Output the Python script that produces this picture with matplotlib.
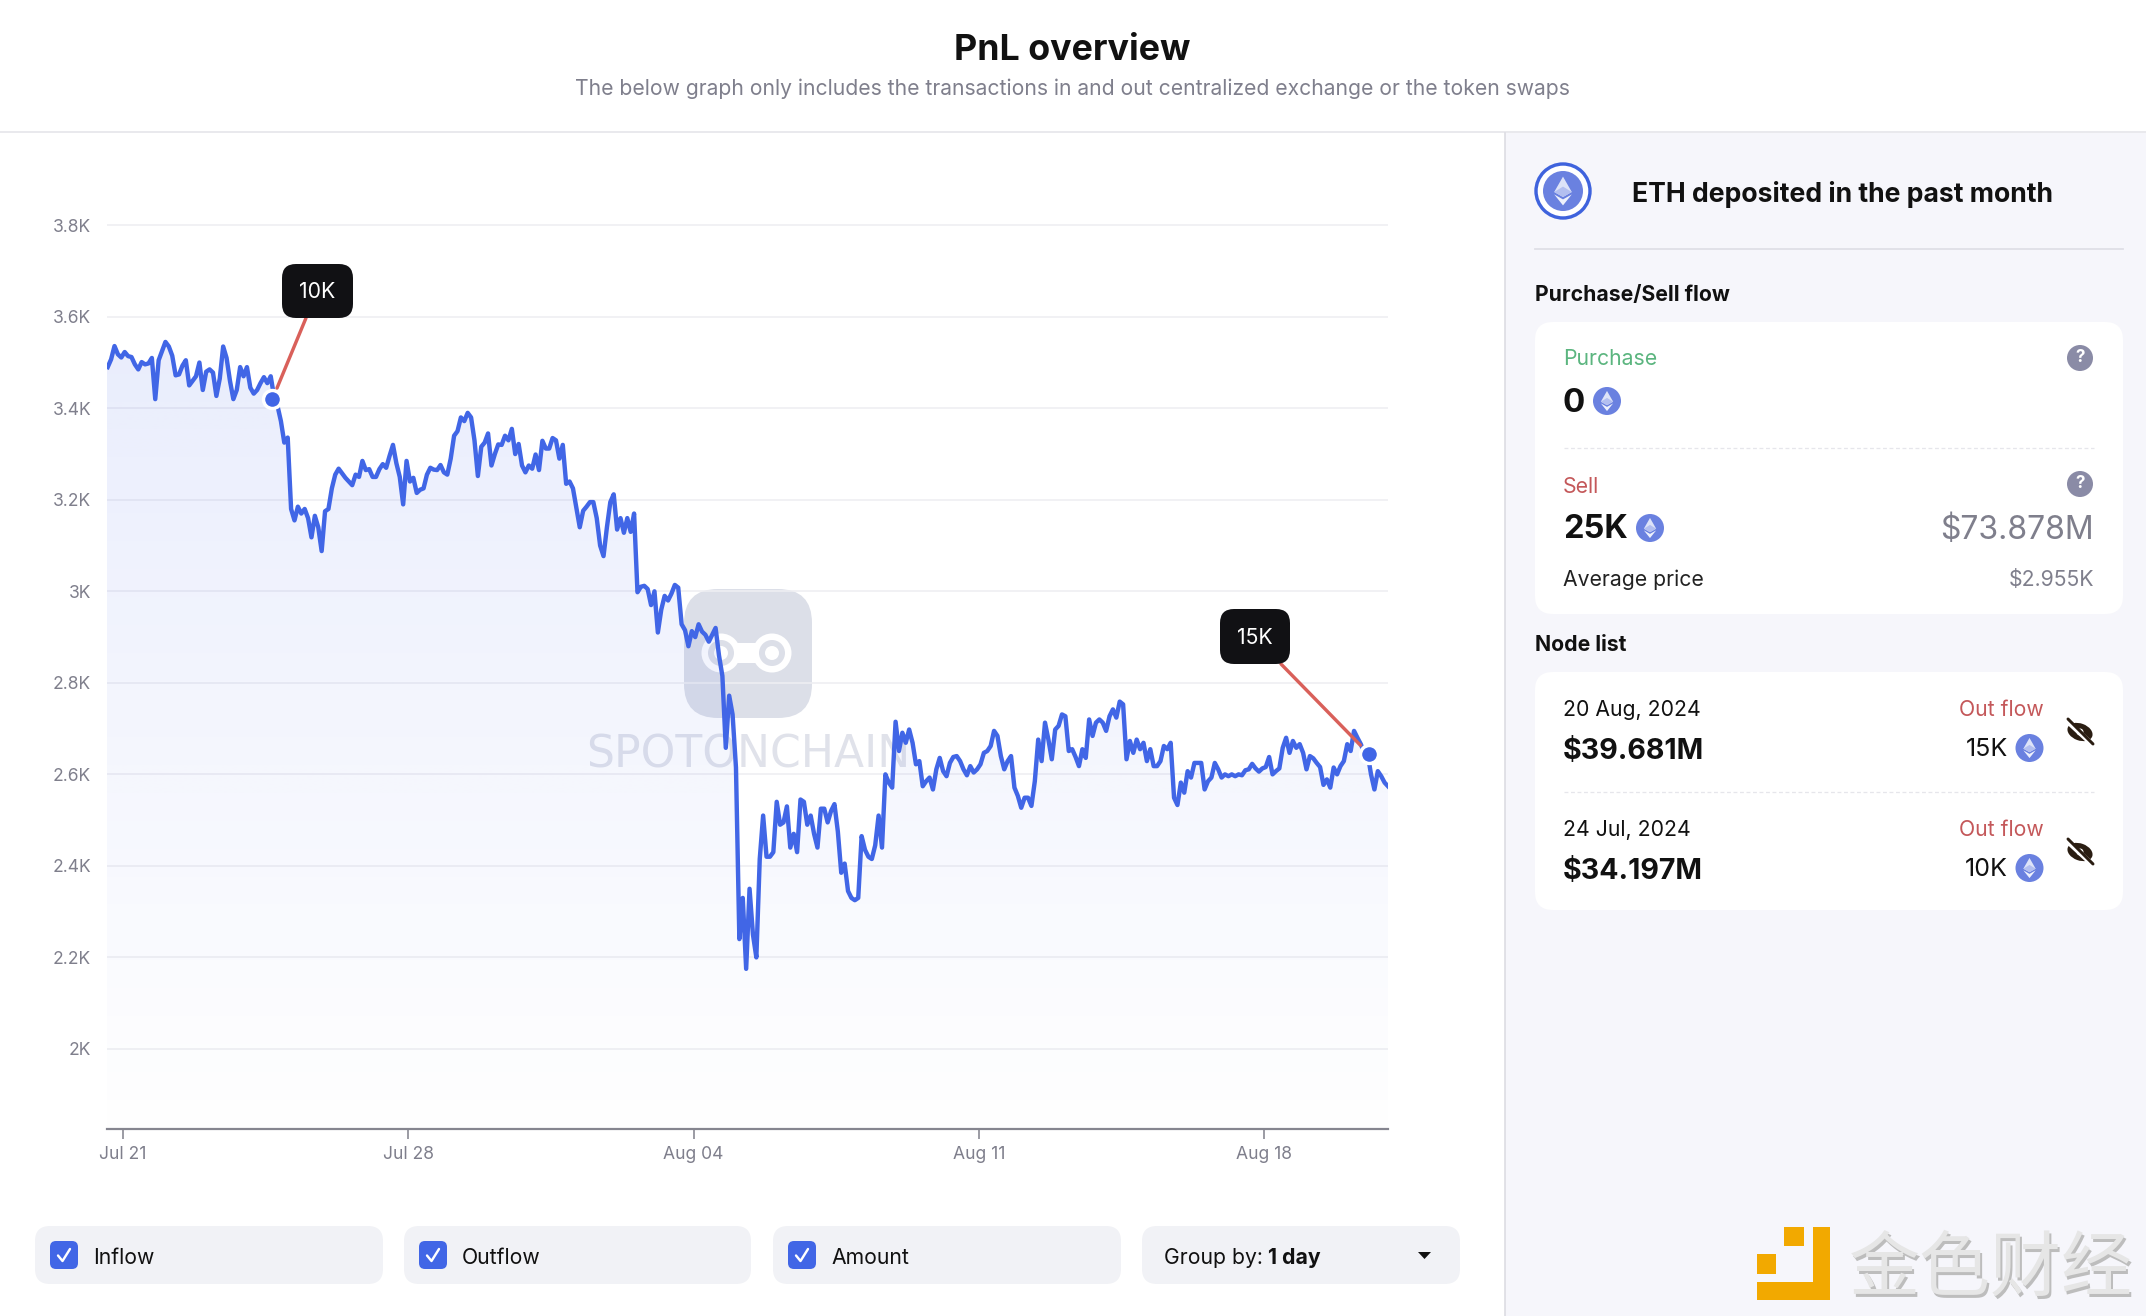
import matplotlib
matplotlib.use("Agg")
import matplotlib.pyplot as plt
import matplotlib.dates as mdates
import numpy as np
import pandas as pd
from matplotlib.patches import FancyBboxPatch, Circle, Polygon, Ellipse, Rectangle

plt.rcParams['font.family'] = ['Inter', 'DejaVu Sans']

# ---------- data ----------
START = '2024-07-20 15:00'
FREQ = '2h'
prices = [
 3490,3507,3536,3518,3511,3523,3514,3512,3496,3485,3501,3496,3498,3510,3420,3505,3525,3545,3535,3515,
 3472,3474,3493,3505,3450,3460,3470,3500,3440,3480,3485,3478,3427,3465,3535,3510,3460,3420,3440,3490,
 3470,3490,3445,3432,3440,3455,3468,3455,3470,3425,3405,3372,3325,3336,3180,3155,3185,3170,3180,3160,
 3118,3165,3140,3088,3175,3180,3225,3255,3268,3258,3248,3240,3232,3255,3250,3285,3265,
 3267,3250,3250,3267,3278,3270,3296,3320,3280,3250,3190,3285,3240,3248,3215,3222,3225,3255,3270,3266,
 3265,3276,3260,3255,3290,3340,3350,3380,3372,3390,3380,3330,3252,3316,3325,3345,3275,3300,3321,3320,
 3340,3330,3355,3300,3322,3275,3260,3275,3268,3299,3265,3329,3312,3312,3335,3330,3290,3320,3235,3240,
 3225,3182,3140,3176,3185,3195,3195,3160,3100,3077,3140,3195,3212,3135,3160,3128,
 3160,3130,3170,2998,3010,3012,3005,2970,3000,2910,2960,2990,2980,2995,3014,3008,2928,2915,2880,2913,
 2900,2928,2912,2905,2890,2905,2920,2860,2815,2658,2772,2731,2615,2240,2330,2175,2350,2250,2200,2415,
 2510,2420,2420,2430,2540,2490,2495,2530,2440,2470,2430,2545,2540,2490,2510,2470,2440,2525,2525,2495,
 2520,2535,2475,2385,2405,2345,2330,2325,2330,2465,2435,2420,2415,2445,2510,2440,2600,
 2582,2571,2715,2651,2691,2669,2698,2669,2622,2629,2574,2585,2593,2567,2611,2636,2607,2596,2625,2638,
 2640,2629,2611,2598,2618,2604,2611,2622,2647,2651,2662,2695,2684,2640,2611,2629,2640,2571,2553,2527,
 2549,2549,2531,2585,2676,2629,2713,2676,2633,2698,2706,2731,2727,2651,2655,2638,2618,2655,2636,2720,
 2684,2713,2720,2713,2695,2727,2742,2724,2759,2753,2633,2673,2647,2676,2655,2669,2629,
 2655,2618,2618,2629,2662,2655,2669,2549,2533,2582,2560,2607,2593,2625,2625,2625,2567,2585,2593,2625,
 2611,2593,2600,2596,2600,2596,2600,2598,2609,2611,2623,2613,2606,2613,2616,2638,2600,2607,2613,2658,
 2680,2647,2673,2658,2666,2647,2611,2640,2635,2625,2616,2577,2589,2571,2615,2600,2618,2629,2666,2651,
 2695,2680,2666,2647,2645,2600,2567,2607,2596,2582,2574,
]
node_times = ['2024-07-24 16:00', '2024-08-20 13:40']
node_prices = [3420, 2645]
node_labels = ['10K', '15K']
y_ticks = [2000, 2200, 2400, 2600, 2800, 3000, 3200, 3400, 3600, 3800]
y_tick_labels = ['2K', '2.2K', '2.4K', '2.6K', '2.8K', '3K', '3.2K', '3.4K', '3.6K', '3.8K']
x_ticks = ['2024-07-21', '2024-07-28', '2024-08-04', '2024-08-11', '2024-08-18']
x_tick_labels = ['Jul 21', 'Jul 28', 'Aug 04', 'Aug 11', 'Aug 18']

W, H = 2146, 1316
BLUE = '#4166E6'
GREY = '#7F7F8C'
RED = '#C4585A'
BASE = 21.2

fig = plt.figure(figsize=(W/100, H/100), dpi=100, facecolor='white')

def make_ui(z):
    a = fig.add_axes([0, 0, 1, 1], zorder=z)
    a.set_xlim(0, W); a.set_ylim(H, 0); a.axis('off'); a.patch.set_alpha(0)
    return a

ui = make_ui(0)
top = make_ui(5)

def px(v):
    return v * 0.72

def txt(a, x, y, s, size, color='#111111', weight='normal', ha='left', va='center', **kw):
    return a.text(x, y + 3, s, fontsize=px(size), color=color, fontweight=weight, ha=ha, va=va, **kw)

def rbox(a, x0, y0, x1, y1, r, fc, ec='none', z=1, alpha=None):
    p = FancyBboxPatch((x0+r, y0+r), x1-x0-2*r, y1-y0-2*r,
                       boxstyle=f'round,pad={r},rounding_size={r}', fc=fc, ec=ec, lw=0, zorder=z, alpha=alpha)
    a.add_patch(p)
    return p

def eth(a, cx, cy, r, z=3):
    a.add_patch(Circle((cx, cy), r, fc='#6A81E0', ec='none', zorder=z))
    h = r*0.72; w = r*0.44
    a.add_patch(Polygon([(cx, cy-h), (cx-w, cy+0.05*r), (cx, cy+0.30*r), (cx+w, cy+0.05*r)],
                        fc='#DDE3F8', ec='none', zorder=z+.1))
    a.add_patch(Polygon([(cx, cy-0.22*r), (cx-w, cy+0.05*r), (cx, cy+0.30*r), (cx+w, cy+0.05*r)],
                        fc='#B3BFF0', ec='none', zorder=z+.2))
    a.add_patch(Polygon([(cx-w, cy+0.17*r), (cx, cy+h), (cx+w, cy+0.17*r), (cx, cy+0.42*r)],
                        fc='#EEF1FC', ec='none', zorder=z+.1))

def eye_off(a, cx, cy):
    dark = '#2A1D12'
    a.add_patch(Ellipse((cx, cy), 26, 17, angle=20, fc=dark, ec='none', zorder=3))
    a.add_patch(Circle((cx, cy), 3.5, fc='white', ec='none', zorder=3.1))
    a.plot([cx-13, cx+14], [cy-11, cy+14], color='white', lw=px(5), zorder=3.2, solid_capstyle='butt')
    a.plot([cx-12, cx+13], [cy-13, cy+12], color=dark, lw=px(3), zorder=3.3, solid_capstyle='round')

def question(a, cx, cy):
    a.add_patch(Circle((cx, cy), 13, fc='#8A8BA6', ec='none', zorder=3))
    txt(a, cx, cy-3, '?', 17, color='white', weight='bold', ha='center', zorder=4)

# ---------- page chrome ----------
ui.add_patch(Rectangle((1505, 133), W-1505, H-133, fc='#F6F6FB', ec='none', zorder=0))
ui.plot([0, W], [132, 132], color='#E4E4E9', lw=px(1.6), zorder=1)
ui.plot([1505, 1505], [133, H], color='#DBDBE2', lw=px(1.6), zorder=1)
txt(ui, 1072, 48, 'PnL overview', 35.8, weight='bold', ha='center')
txt(ui, 1072, 86, 'The below graph only includes the transactions in and out centralized exchange or the token swaps',
    21.1, color=GREY, ha='center')

# ---------- watermark (behind the chart) ----------
WM = '#DCDFE8'
rbox(ui, 684, 589, 812, 718, 34, WM, z=1)
for cx in (721, 772):
    ui.add_patch(Circle((cx, 653), 19.5, fc='white', ec='none', zorder=1.1))
ui.add_patch(Rectangle((721, 643), 51, 20, fc='white', ec='none', zorder=1.1))
for cx in (721, 772):
    ui.add_patch(Circle((cx, 653), 13, fc=WM, ec='none', zorder=1.2))
    ui.add_patch(Circle((cx, 653), 7, fc='white', ec='none', zorder=1.3))
txt(ui, 748, 752, 'SPOTONCHAIN', 44, color='#E0E2EA', ha='center', family='DejaVu Sans', zorder=1)

# ---------- chart ----------
AX_L, AX_R, AX_T, AX_B = 107, 1388, 201, 1129
ax = fig.add_axes([AX_L/W, 1-AX_B/H, (AX_R-AX_L)/W, (AX_B-AX_T)/H], zorder=2)
ax.patch.set_alpha(0)
times = pd.date_range(START, periods=len(prices), freq=FREQ)
tnum = mdates.date2num(times)
vals = np.array(prices, dtype=float)
ax.set_xlim(mdates.date2num(pd.Timestamp('2024-07-20 14:35')), tnum[-1])
ax.set_ylim(1825, 3853)

ax.set_yticks(y_ticks)
ax.set_yticklabels(y_tick_labels, color=GREY, fontsize=px(17.5))
ax.set_xticks(mdates.date2num(pd.to_datetime(x_ticks)))
ax.set_xticklabels(x_tick_labels, color=GREY, fontsize=px(17.5))
ax.tick_params(axis='y', length=0, pad=px(16))
ax.tick_params(axis='x', length=px(10), width=px(1.6), color='#85858F', pad=px(7))
for s in ('top', 'left', 'right'):
    ax.spines[s].set_visible(False)
ax.spines['bottom'].set_color('#85858F')
ax.spines['bottom'].set_linewidth(px(2.2))
ax.grid(axis='y', color='#EEEEF2', lw=px(1.6), zorder=1)
ax.set_axisbelow(True)

# gradient area under the line
grad = np.zeros((256, 2, 4))
grad[..., 0] = 0x42/255; grad[..., 1] = 0x63/255; grad[..., 2] = 0xEB/255
grad[..., 3] = np.linspace(0.115, 0.004, 256)[:, None]
xl = ax.get_xlim(); yl = ax.get_ylim()
im = ax.imshow(grad, extent=[xl[0], xl[1], yl[0], 3560], origin='upper', aspect='auto', zorder=1.5,
               interpolation='bilinear')
poly = Polygon(np.column_stack([np.r_[xl[0], xl[0], tnum, tnum[-1]], np.r_[yl[0], vals[0], vals, yl[0]]]),
               transform=ax.transData, fc='none', ec='none')
ax.add_patch(poly)
im.set_clip_path(poly)
ax.set_xlim(xl); ax.set_ylim(yl)

ax.plot(tnum, vals, color=BLUE, lw=px(4.4), zorder=3, solid_joinstyle='round')

node_x = mdates.date2num(pd.to_datetime(node_times))
box_rects = [(282, 264, 353, 318), (1220, 609, 1290, 664)]
leader_from = [(306, 318), (1281, 664)]
for nx, ny, lab, rect, lf in zip(node_x, node_prices, node_labels, box_rects, leader_from):
    top.annotate('', xy=(nx, ny), xycoords=ax.transData, xytext=lf, textcoords=top.transData,
                 arrowprops=dict(arrowstyle='-', color='#D9605A', lw=px(3.4), shrinkA=0, shrinkB=px(12)),
                 zorder=1)
    rbox(top, *rect, 14, '#111114', z=2)
    txt(top, (rect[0]+rect[2])/2, (rect[1]+rect[3])/2-2, lab, BASE, color='white', ha='center', zorder=3)
ax.plot(node_x, node_prices, 'o', ms=px(18), mfc=BLUE, mec='white', mew=px(3.4), zorder=4, clip_on=False)

# ---------- legend row ----------
for (x0, x1), cb, tx, lab in [((35, 383), 64, 93, 'Inflow'), ((404, 751), 433, 462, 'Outflow'), ((773, 1121), 802, 831, 'Amount')]:
    rbox(ui, x0, 1226, x1, 1284, 15, '#F1F2F6', z=1)
    rbox(ui, cb-14, 1241, cb+14, 1269, 6, BLUE, z=2)
    ui.plot([cb-6, cb-1.5, cb+6], [1255.5, 1261, 1249], color='white', lw=px(2.4), zorder=3,
            solid_capstyle='round', solid_joinstyle='round')
    txt(ui, tx, 1255, lab, BASE)
rbox(ui, 1142, 1226, 1460, 1284, 15, '#F1F2F6', z=1)
txt(ui, 1164, 1255, 'Group by:', BASE)
txt(ui, 1268, 1255, '1 day', BASE, weight='bold')
ui.add_patch(Polygon([(1418, 1252), (1431, 1252), (1424.5, 1259)], fc='#111111', ec='none', zorder=3))

# ---------- right panel ----------
ui.add_patch(Circle((1563, 191), 27, fc='white', ec='#3F63DD', lw=px(3.4), zorder=2))
eth(ui, 1563, 191, 20)
txt(ui, 1632, 192, 'ETH deposited in the past month', 26.6, weight='bold')
ui.plot([1535, 2123], [249, 249], color='#DFDFE6', lw=px(1.8), zorder=1)
txt(ui, 1535, 292, 'Purchase/Sell flow', BASE, weight='bold')

rbox(ui, 1535, 322, 2123, 614, 18, 'white', z=1)
txt(ui, 1563, 356, 'Purchase', BASE, color='#5BB57F')
question(ui, 2080, 358)
txt(ui, 1563, 400, '0', 33, weight='bold')
eth(ui, 1607, 401, 14)
ui.plot([1564, 2094], [448, 448], color='#E6E6EB', lw=px(1.3), ls=(0, (3, 2)), zorder=2)
txt(ui, 1563, 484, 'Sell', BASE, color=RED)
question(ui, 2080, 484)
txt(ui, 1563, 527, '25K', 32.5, weight='bold')
eth(ui, 1650, 528, 14)
txt(ui, 2094, 527, '$73.878M', 32, color=GREY, ha='right')
txt(ui, 1563, 577, 'Average price', BASE, color='#222222')
txt(ui, 2094, 577, '$2.955K', BASE, color=GREY, ha='right')

txt(ui, 1535, 642, 'Node list', BASE, weight='bold')
rbox(ui, 1535, 672, 2123, 910, 18, 'white', z=1)
ui.plot([1564, 2094], [792, 792], color='#E6E6EB', lw=px(1.3), ls=(0, (3, 2)), zorder=2)
for dy, date, usd, amt in [(0, '20 Aug, 2024', '$39.681M', '15K'), (120, '24 Jul, 2024', '$34.197M', '10K')]:
    txt(ui, 1563, 707+dy, date, BASE)
    txt(ui, 2044, 707+dy, 'Out flow', BASE, color=RED, ha='right')
    txt(ui, 1563, 748+dy, usd, 28.6, weight='bold')
    txt(ui, 2008, 747+dy, amt, 25, ha='right')
    eth(ui, 2029.5, 748+dy, 14)
    eye_off(ui, 2080, 732+dy)

# ---------- bottom-right brand mark ----------
ORANGE = '#F2A900'
for x0, y0, x1, y1 in [(1784, 1227, 1804, 1246), (1757, 1254, 1776, 1274), (1757, 1282, 1830, 1300), (1813, 1227, 1830, 1300)]:
    ui.add_patch(Rectangle((x0, y0), x1-x0, y1-y0, fc=ORANGE, ec='none', zorder=3))
txt(ui, 1993, 1269, '金色财经', 71, color='#BDBDBD', ha='center', family='Noto Sans CJK SC', zorder=3)
txt(ui, 1991, 1266, '金色财经', 71, color='#E6E6E6', ha='center', family='Noto Sans CJK SC', zorder=3.1)

fig.savefig('out.png', dpi=100, facecolor='white')
